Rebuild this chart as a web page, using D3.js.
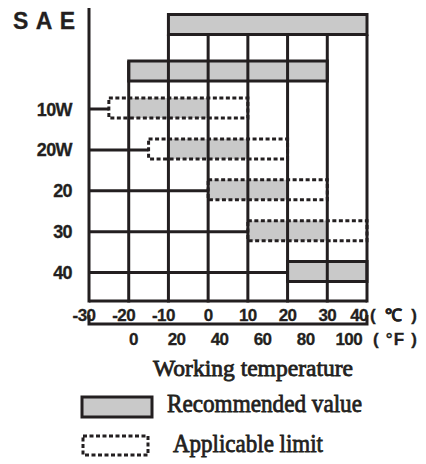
<!DOCTYPE html>
<html>
<head>
<meta charset="utf-8">
<script src="https://cdn.jsdelivr.net/npm/d3@7"></script>
<style>
    body { margin: 0; background: #fff; }
    .num { font-family: "Liberation Sans", Arial, sans-serif; font-weight: bold; fill: #231f20; stroke: #231f20; stroke-width: 0.3; }
    .serif { font-family: "Liberation Serif", "Times New Roman", serif; fill: #231f20; stroke: #231f20; stroke-width: 0.8; }
</style>
</head>
<body>
<svg id="chart" width="426" height="464"></svg>
<script>
// rows top to bottom, the two upper bars carry no label
const rowLabels = ["", "", "10W", "20W", "20", "30", "40"];
const recommended = [[-10, 40], [-20, 30], [-20, 0], [-10, 10], [0, 20], [10, 30], [20, 40]];
const applicable = [null, null, [-25, 10], [-15, 20], [0, 30], [10, 40], null];
const celsiusTicks = [-30, -20, -10, 0, 10, 20, 30, 40];
const fahrenheitTicks = [0, 20, 40, 60, 80, 100];
const legendItems = ["Recommended value", "Applicable limit"];

const ink = "#231f20";
const gray = "#c9c9c9";
const svg = d3.select("#chart");

const x = d3.scaleLinear().domain([-30, 40]).range([89, 367]);
const y = d3.scaleLinear().domain([0, 1, 2, 6]).range([24.5, 71, 108, 271.5]);
const fx = d3.scaleLinear().domain([0, 100]).range([x(-18.8), x(35.4)]);
const barH = 20;
const bottom = 301;
const rows = d3.range(rowLabels.length);

// gray fills
svg.append("g").selectAll("rect")
    .data(rows)
    .join("rect")
    .attr("x", i => x(recommended[i][0]))
    .attr("y", i => y(i) - barH / 2)
    .attr("width", i => x(recommended[i][1]) - x(recommended[i][0]))
    .attr("height", barH)
    .attr("fill", gray);

// vertical grid lines
const grid = svg.append("g").attr("stroke", ink).attr("stroke-width", 3);
grid.selectAll("line")
    .data(celsiusTicks)
    .join("line")
    .attr("x1", d => x(d))
    .attr("x2", d => x(d))
    .attr("y1", d => d === -30 ? 8 : d === -20 ? y(1) - barH / 2 : y(0) + barH / 2)
    .attr("y2", bottom + 1.5);

grid.append("line")
    .attr("x1", x(-30)).attr("x2", x(40))
    .attr("y1", bottom).attr("y2", bottom);

// leader lines from the axis to each grade
grid.append("g").selectAll("line")
    .data(rows.filter(i => rowLabels[i] !== ""))
    .join("line")
    .attr("x1", x(-30))
    .attr("x2", i => x(applicable[i] ? applicable[i][0] : recommended[i][0]))
    .attr("y1", i => y(i) + 1)
    .attr("y2", i => y(i) + 1);

// applicable limit (dashed)
svg.append("g").selectAll("rect")
    .data(rows.filter(i => applicable[i]))
    .join("rect")
    .attr("x", i => x(applicable[i][0]))
    .attr("y", i => y(i) - barH / 2)
    .attr("width", i => x(applicable[i][1]) - x(applicable[i][0]))
    .attr("height", barH)
    .attr("fill", "none")
    .attr("stroke", ink)
    .attr("stroke-width", 3)
    .attr("stroke-dasharray", "4,2.5");

// boxed recommended bars
svg.append("g").selectAll("rect")
    .data(rows.filter(i => !applicable[i]))
    .join("rect")
    .attr("x", i => x(recommended[i][0]))
    .attr("y", i => y(i) - barH / 2)
    .attr("width", i => x(recommended[i][1]) - x(recommended[i][0]))
    .attr("height", barH)
    .attr("fill", "none")
    .attr("stroke", ink)
    .attr("stroke-width", 3);

// SAE title and row labels
svg.append("text").attr("class", "num")
    .attr("x", 13).attr("y", 29)
    .attr("font-size", 23)
    .attr("textLength", 62).attr("lengthAdjust", "spacing")
    .text("SAE");

svg.append("g").selectAll("text")
    .data(rows.filter(i => rowLabels[i] !== ""))
    .join("text")
    .attr("class", "num")
    .attr("x", 72)
    .attr("y", i => y(i) + 7.5)
    .attr("text-anchor", "end")
    .attr("font-size", 18)
    .attr("letter-spacing", -0.6)
    .text(i => rowLabels[i]);

// celsius axis labels
svg.append("g").selectAll("text")
    .data(celsiusTicks)
    .join("text")
    .attr("class", "num")
    .attr("x", d => x(d) + (d < 0 ? -5 : d === 40 ? -8 : 0))
    .attr("y", 321)
    .attr("text-anchor", "middle")
    .attr("font-size", 17)
    .attr("letter-spacing", -0.6)
    .text(d => d);
svg.append("text").attr("class", "num")
    .attr("x", 370).attr("y", 321).attr("font-size", 17)
    .attr("textLength", 47).attr("lengthAdjust", "spacing")
    .text("( ℃ )");

// fahrenheit bracket and labels
svg.append("path")
    .attr("d", `M${x(-30)},315V324H${x(40)}V315`)
    .attr("fill", "none").attr("stroke", ink).attr("stroke-width", 3);

svg.append("g").selectAll("text")
    .data(fahrenheitTicks)
    .join("text")
    .attr("class", "num")
    .attr("x", d => fx(d))
    .attr("y", 345)
    .attr("text-anchor", "middle")
    .attr("font-size", 17)
    .attr("letter-spacing", -0.6)
    .text(d => d);
svg.append("text").attr("class", "num")
    .attr("x", 373).attr("y", 345).attr("font-size", 17)
    .attr("textLength", 44).attr("lengthAdjust", "spacing")
    .text("( °F )");

// axis title
svg.append("text").attr("class", "serif")
    .attr("x", 153).attr("y", 376)
    .attr("font-size", 24)
    .attr("textLength", 200).attr("lengthAdjust", "spacingAndGlyphs")
    .text("Working temperature");

// legend
const legend = svg.append("g");
legend.append("rect")
    .attr("x", 82).attr("y", 397).attr("width", 70).attr("height", 20)
    .attr("fill", gray).attr("stroke", ink).attr("stroke-width", 3);
legend.append("rect")
    .attr("x", 83).attr("y", 436).attr("width", 65).attr("height", 19)
    .attr("fill", "none").attr("stroke", ink).attr("stroke-width", 3)
    .attr("stroke-dasharray", "4,2.5");
legend.selectAll("text")
    .data(legendItems)
    .join("text")
    .attr("class", "serif")
    .attr("x", (d, i) => i === 0 ? 167 : 173)
    .attr("y", (d, i) => i === 0 ? 412 : 452)
    .attr("font-size", 26)
    .attr("textLength", (d, i) => i === 0 ? 195 : 150)
    .attr("lengthAdjust", "spacingAndGlyphs")
    .text(d => d);
</script>
</body>
</html>
